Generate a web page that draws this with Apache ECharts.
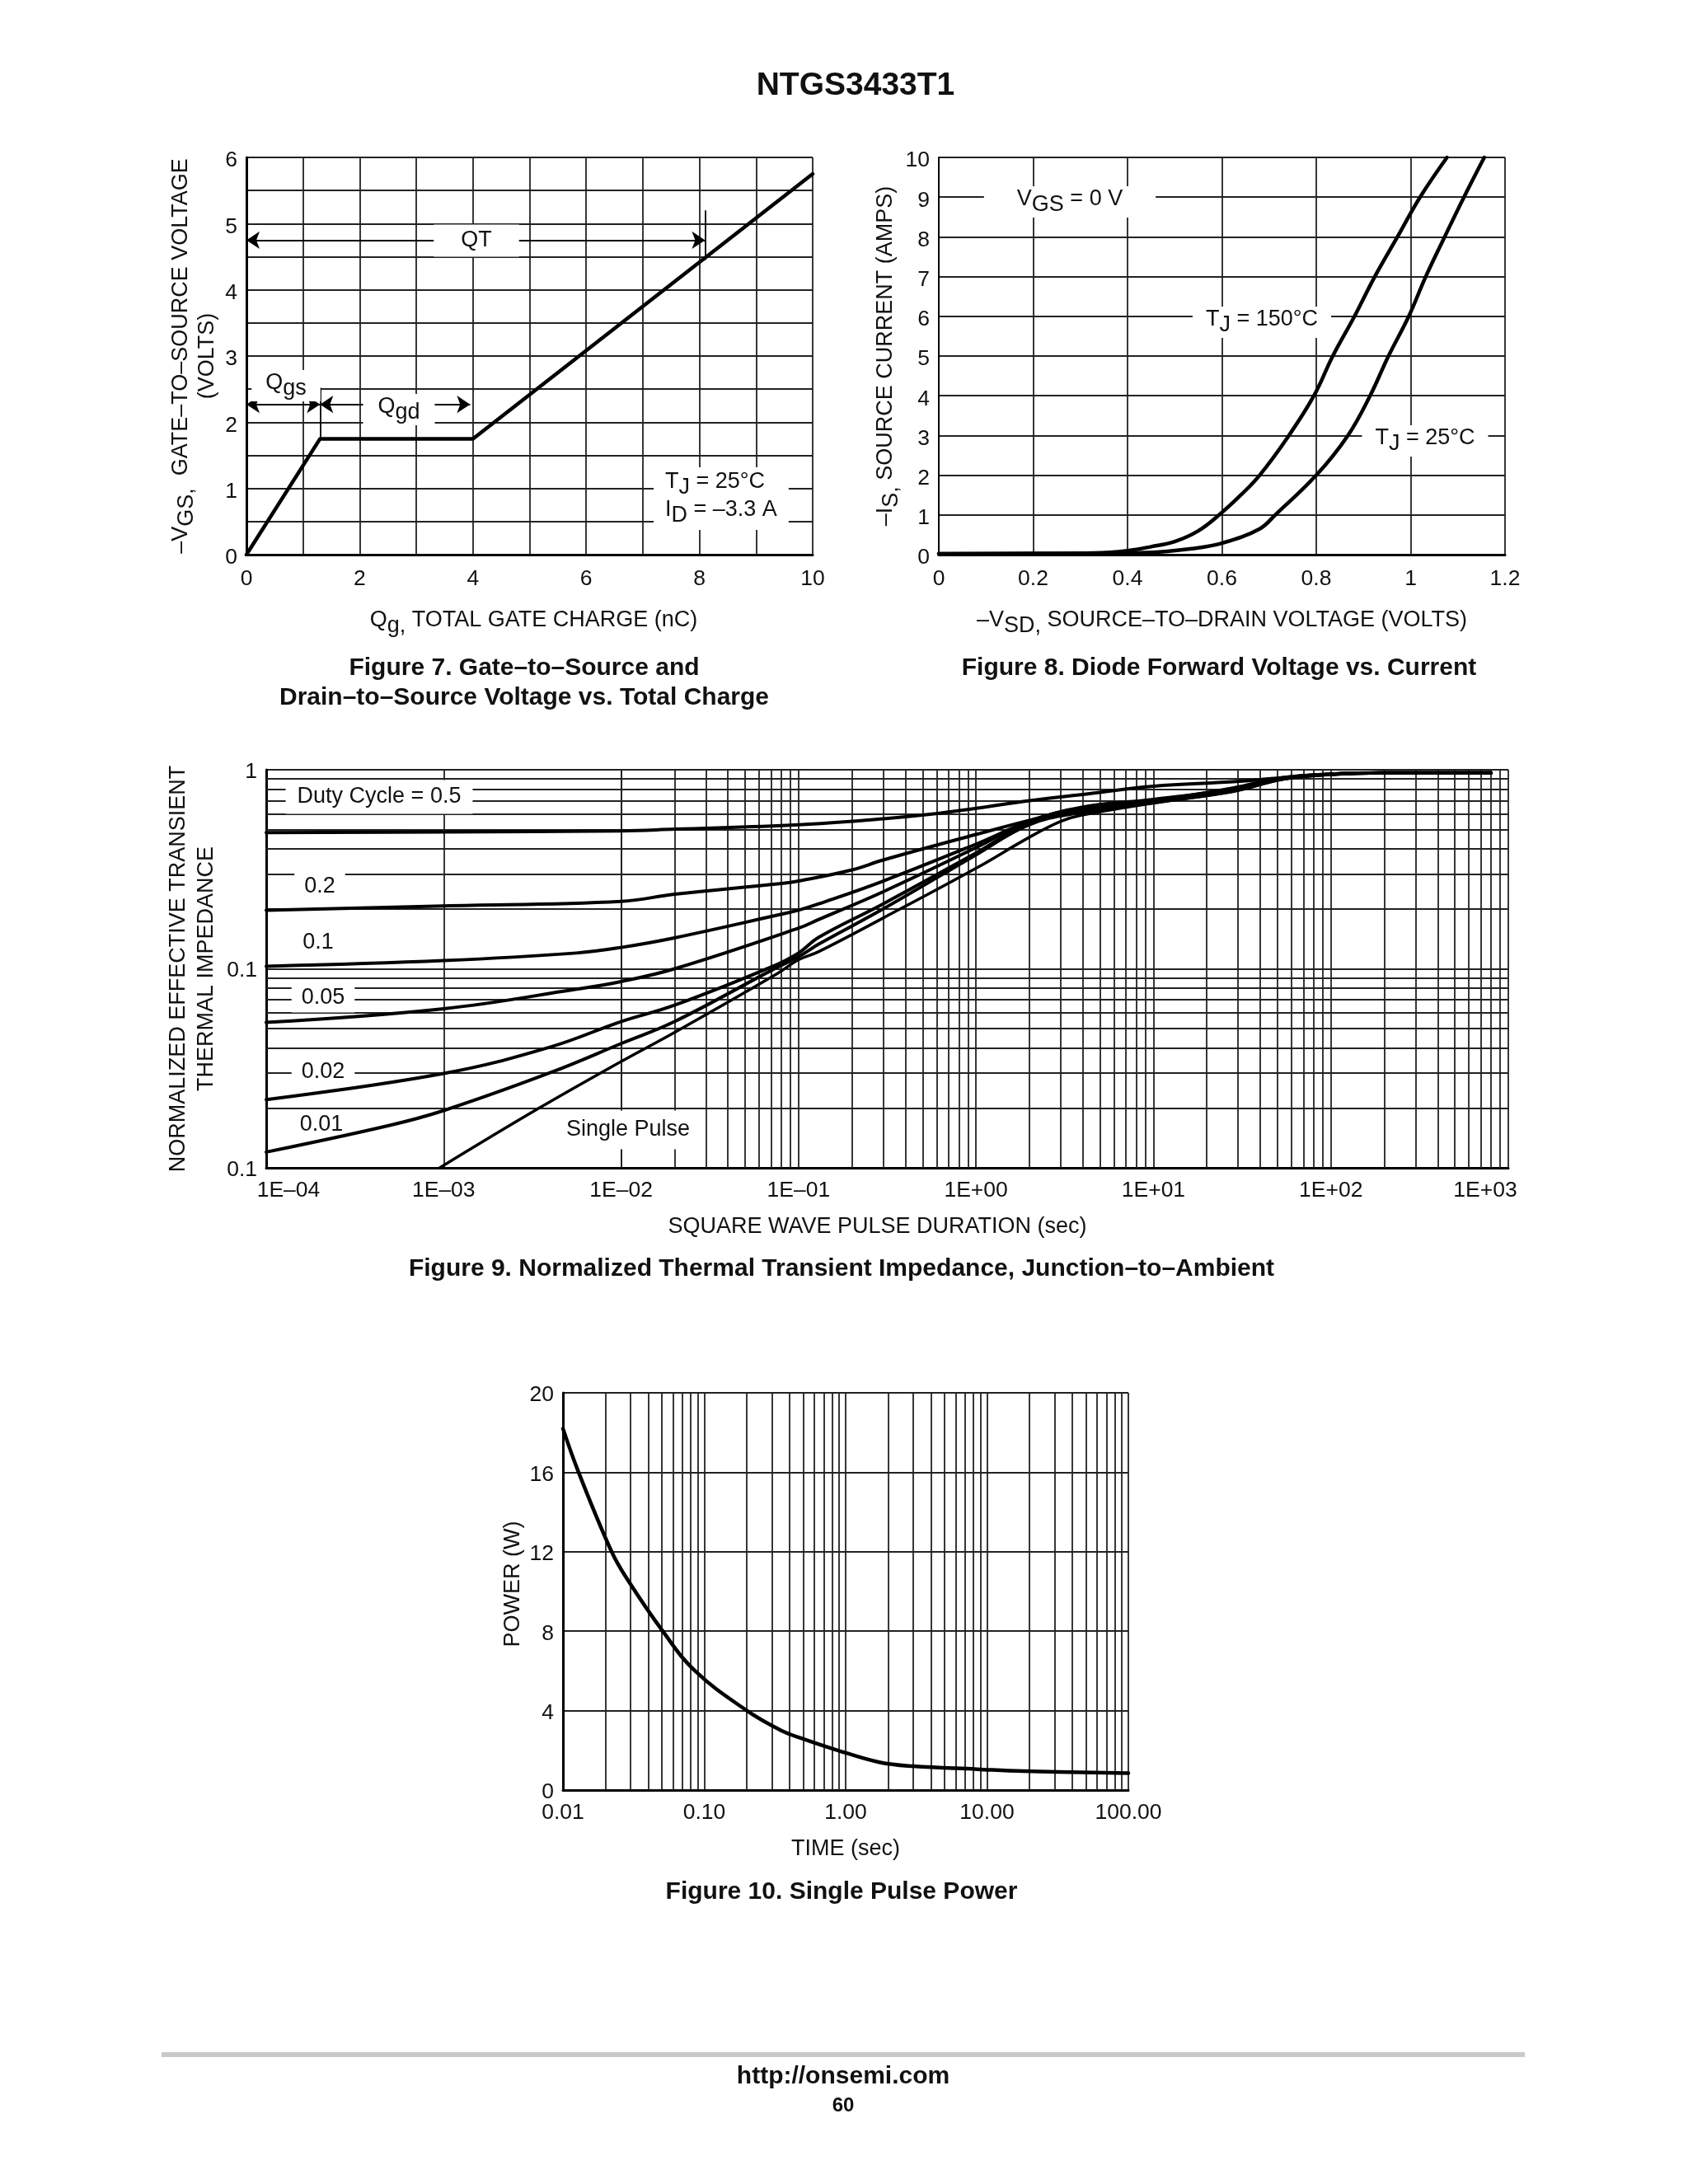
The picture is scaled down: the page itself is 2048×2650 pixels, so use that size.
<!DOCTYPE html>
<html>
<head>
<meta charset="utf-8">
<title>NTGS3433T1</title>
<script src="https://cdn.jsdelivr.net/npm/echarts@6/dist/echarts.min.js"></script>
<style>
html, body { margin: 0; padding: 0; background: #fff; }
#page { width: 2048px; height: 2650px; }
</style>
</head>
<body>
<div id="page"></div>
<script>
// Figure 7 - gate charge
var gateChargeX = [0, 1.3, 4, 10];
var gateChargeY = [0, 1.75, 1.75, 5.75];
var qtArrow = [[0, 4.75], [8.1, 4.75]];
var qtLeader = [[8.1, 4.45], [8.1, 5.2]];
var qgsArrow = [[0, 2.27], [1.3, 2.27]];
var qgdArrow = [[1.3, 2.27], [3.95, 2.27]];
var qgsLeader = [[1.3, 1.75], [1.3, 2.52]];

// Figure 8 - diode forward voltage
var diodeHotX = [0, 0.2, 0.33, 0.4, 0.45, 0.5, 0.55, 0.594, 0.64, 0.68, 0.742, 0.795, 0.835, 0.881, 0.924, 0.972, 1.02, 1.077];
var diodeHotY = [0.02, 0.03, 0.04, 0.1, 0.2, 0.33, 0.6, 1, 1.5, 2, 3, 4, 5, 6, 7, 8, 9, 10];
var diodeRoomX = [0, 0.3, 0.44, 0.536, 0.603, 0.68, 0.713, 0.8, 0.867, 0.914, 0.953, 0.996, 1.032, 1.072, 1.113, 1.156];
var diodeRoomY = [0.02, 0.03, 0.05, 0.15, 0.3, 0.65, 1, 2, 3, 4, 5, 6, 7, 8, 9, 10];

// Figure 9 - thermal impedance, one x/y pair per duty cycle
var duty50X = [1e-4, 1e-3, 1e-2, 2e-2, 0.1, 0.3, 0.55, 1, 2, 3.9, 10, 28, 54, 100, 200, 800];
var duty50Y = [0.483, 0.487, 0.493, 0.503, 0.529, 0.567, 0.597, 0.64, 0.70, 0.75, 0.826, 0.87, 0.914, 0.952, 0.964, 0.964];
var duty20X = [1e-4, 1e-3, 1e-2, 2e-2, 8e-2, 0.1, 0.2, 0.3, 1, 2, 3.9, 10, 28, 54, 100, 200, 800];
var duty20Y = [0.197, 0.207, 0.218, 0.237, 0.268, 0.276, 0.314, 0.352, 0.473, 0.557, 0.64, 0.70, 0.81, 0.914, 0.952, 0.964, 0.964];
var duty10X = [1e-4, 1e-3, 5.6e-3, 1e-2, 2e-2, 8e-2, 0.1, 0.13, 0.3, 1, 2, 3.9, 10, 28, 54, 100, 200, 800];
var duty10Y = [0.103, 0.11, 0.12, 0.128, 0.143, 0.188, 0.197, 0.212, 0.276, 0.423, 0.55, 0.647, 0.71, 0.80, 0.91, 0.95, 0.964, 0.964];
var duty05X = [1e-4, 1e-3, 5.6e-3, 1e-2, 2e-2, 0.1, 0.13, 0.3, 1, 2, 3.9, 10, 28, 54, 100, 200, 800];
var duty05Y = [0.0538, 0.063, 0.079, 0.0863, 0.1, 0.16, 0.177, 0.244, 0.406, 0.55, 0.64, 0.70, 0.79, 0.905, 0.95, 0.964, 0.964];
var duty02X = [1e-4, 1e-3, 4e-3, 1e-2, 2e-2, 7e-2, 0.1, 0.13, 0.3, 1, 2, 3.9, 10, 28, 54, 100, 200, 800];
var duty02Y = [0.022, 0.0298, 0.0405, 0.0543, 0.0656, 0.102, 0.12, 0.144, 0.212, 0.382, 0.54, 0.625, 0.69, 0.785, 0.90, 0.948, 0.964, 0.964];
var duty01X = [1e-4, 4.9e-4, 1e-3, 4e-3, 1e-2, 2e-2, 7e-2, 0.1, 0.13, 0.3, 1, 2, 3.9, 10, 28, 54, 100, 200, 800];
var duty01Y = [0.012, 0.0163, 0.0194, 0.0301, 0.0421, 0.0543, 0.098, 0.115, 0.133, 0.2, 0.374, 0.53, 0.61, 0.685, 0.78, 0.90, 0.948, 0.964, 0.964];
var singleX = [9.5e-4, 3.4e-3, 1e-2, 2e-2, 7.5e-2, 0.1, 0.13, 0.3, 1, 2, 3, 3.9, 10, 28, 54, 100, 200, 800];
var singleY = [0.01, 0.0198, 0.0342, 0.0479, 0.094, 0.111, 0.122, 0.18, 0.32, 0.458, 0.55, 0.59, 0.68, 0.777, 0.896, 0.945, 0.964, 0.964];

// Figure 10 - single pulse power
var powerX = [0.01, 0.0129, 0.0221, 0.0286, 0.0508, 0.086, 0.2, 0.35, 0.49, 0.88, 1.73, 3, 8.5, 18, 100];
var powerY = [18.2, 16, 12, 10.6, 8, 6, 4, 3, 2.6, 2, 1.4, 1.2, 1.05, 0.95, 0.85];

// Tick labels as printed on the sheet
var impedanceXLabels = ['1E\u201304', '1E\u201303', '1E\u201302', '1E\u201301', '1E+00', '1E+01', '1E+02', '1E+03'];
var impedanceYLabels = ['0.1', '0.1', '1'];
var logMinorSteps = [2, 3, 4, 5, 6, 7, 8, 9];

var FONT = '"Liberation Sans", Arial, sans-serif';
var INK = '#111';
var TICK_SIZE = 26.5;
var NAME_SIZE = 27;
var GRID_WIDTH = 1.8;


//
// Helpers
//

// zip two lists into [x, y] pairs
function zipXY(xs, ys) {
    return xs.map(function(x, i) { return [x, ys[i]]; });
}

// 2,3..9 x 10^k for every decade between two exponents
function logGridValues(fromExp, toExp) {
    var out = [];
    for (var k = fromExp; k < toExp; k++) {
        logMinorSteps.forEach(function(m) { out.push(m * Math.pow(10, k)); });
    }
    return out;
}

// rich text styles: m = normal, s = lowered subscript, p = plain line, q = tight second line
function richStyles(size) {
    return {
        m: { fontFamily: FONT, fontSize: size, color: INK, lineHeight: size + 7, verticalAlign: 'top' },
        s: { fontFamily: FONT, fontSize: size, color: INK, lineHeight: size + 7, verticalAlign: 'bottom' },
        p: { fontFamily: FONT, fontSize: size, color: INK, lineHeight: size + 7 },
        q: { fontFamily: FONT, fontSize: size, color: INK, lineHeight: size - 4 }
    };
}

function curve(grid, xs, ys, width, smooth) {
    return {
        type: 'line',
        xAxisIndex: grid,
        yAxisIndex: grid,
        data: zipXY(xs, ys),
        showSymbol: false,
        smooth: smooth,
        z: 5,
        lineStyle: { color: '#000', width: width, join: 'round', cap: 'round' }
    };
}

// extra grid lines on the log charts, go through the axis scale
function gridLines(grid, key, values) {
    return {
        type: 'line',
        xAxisIndex: grid,
        yAxisIndex: grid,
        data: [],
        z: 1,
        markLine: {
            silent: true,
            z: 1,
            symbol: 'none',
            animation: false,
            label: { show: false },
            lineStyle: { color: '#222', width: GRID_WIDTH, type: 'solid' },
            data: values.map(function(v) {
                var item = {};
                item[key] = v;
                return item;
            })
        }
    };
}

function segment(a, b) {
    return [{ coord: a }, { coord: b }];
}

function xAxisBase(grid, name, gap) {
    return {
        gridIndex: grid,
        name: name,
        nameLocation: 'middle',
        nameGap: gap,
        nameTextStyle: { fontFamily: FONT, fontSize: NAME_SIZE, color: INK, rich: richStyles(NAME_SIZE) },
        axisTick: { show: false },
        axisLine: { onZero: false, lineStyle: { color: '#000', width: 3 } },
        axisLabel: { fontFamily: FONT, fontSize: TICK_SIZE, color: INK, margin: 16, hideOverlap: false, showMinLabel: true, showMaxLabel: true },
        splitLine: { show: true, lineStyle: { color: '#222', width: GRID_WIDTH } }
    };
}

function yAxisBase(grid, name, gap, labelOf, labelDrop) {
    return {
        gridIndex: grid,
        name: name,
        nameLocation: 'middle',
        nameGap: gap,
        nameTextStyle: { fontFamily: FONT, fontSize: NAME_SIZE, color: INK, rich: richStyles(NAME_SIZE) },
        axisTick: { show: false },
        axisLine: { onZero: false, lineStyle: { color: '#000', width: 3 } },
        axisLabel: {
            margin: 11,
            hideOverlap: false,
            showMinLabel: true,
            showMaxLabel: true,
            // rich padding nudges the number a little below its grid line, as on the sheet
            formatter: function(v) {
                var text = labelOf(v);
                return text === '' ? '' : '{t|' + text + '}';
            },
            rich: { t: { fontFamily: FONT, fontSize: TICK_SIZE, color: INK, padding: [labelDrop, 0, 0, 0] } }
        },
        splitLine: { show: true, lineStyle: { color: '#222', width: GRID_WIDTH } }
    };
}

// annotation inside a plot, white box hides the grid but stays under the curves
function note(text, x, y, padV, padH, align) {
    return {
        type: 'text',
        z: 3,
        x: x,
        y: y,
        style: {
            text: text,
            rich: richStyles(NAME_SIZE),
            font: NAME_SIZE + 'px ' + FONT,
            fill: INK,
            align: align || 'center',
            verticalAlign: 'middle',
            backgroundColor: '#fff',
            padding: [padV, padH]
        }
    };
}

function heading(text, cx, cy, size) {
    return {
        text: text,
        left: cx,
        top: cy,
        textAlign: 'center',
        textVerticalAlign: 'middle',
        padding: 0,
        textStyle: { fontFamily: FONT, fontSize: size, fontWeight: 'bold', color: '#111' }
    };
}


//
// Chart config
//

var chart = echarts.init(document.getElementById('page'), null, { renderer: 'canvas' });

var fig9XAxis = xAxisBase(2, 'SQUARE WAVE PULSE DURATION (sec)', 58);
fig9XAxis.type = 'log';
fig9XAxis.logBase = 10;
fig9XAxis.min = 1e-4;
fig9XAxis.max = 1e3;
fig9XAxis.interval = 1;
fig9XAxis.axisLabel.margin = 14;
fig9XAxis.nameTextStyle.padding = [0, 24, 0, 0];
fig9XAxis.axisLabel.formatter = function(v) {
    var text = impedanceXLabels[Math.round(Math.log10(v)) + 4];
    if (v < 2e-4) return '{first|' + text + '}';
    if (v > 500) return '{last|' + text + '}';
    return text;
};
fig9XAxis.axisLabel.rich = {
    first: { fontFamily: FONT, fontSize: TICK_SIZE, color: INK, padding: [0, 0, 0, 54] },
    last: { fontFamily: FONT, fontSize: TICK_SIZE, color: INK, padding: [0, 56, 0, 0] }
};

var fig9YAxis = yAxisBase(2, '{p|NORMALIZED EFFECTIVE TRANSIENT}\n{p|THERMAL IMPEDANCE}', 53, function(v) {
    return impedanceYLabels[Math.round(Math.log10(v)) + 2];
}, 5);
fig9YAxis.type = 'log';
fig9YAxis.logBase = 10;
fig9YAxis.min = 0.01;
fig9YAxis.max = 1;
fig9YAxis.interval = 1;

var fig10XAxis = xAxisBase(3, 'TIME (sec)', 58);
fig10XAxis.type = 'log';
fig10XAxis.logBase = 10;
fig10XAxis.min = 0.01;
fig10XAxis.max = 100;
fig10XAxis.interval = 1;
fig10XAxis.axisLabel.margin = 14;
fig10XAxis.axisLabel.formatter = function(v) { return v.toFixed(2); };

var fig10YAxis = yAxisBase(3, 'POWER (W)', 47, function(v) { return String(v); }, 6);
fig10YAxis.type = 'value';
fig10YAxis.min = 0;
fig10YAxis.max = 20;
fig10YAxis.interval = 4;
fig10YAxis.nameTextStyle.padding = [0, 0, 0, 18];

var fig7XAxis = xAxisBase(0, '{m|Q}{s|g,}{m| TOTAL GATE CHARGE (nC)}', 66);
fig7XAxis.type = 'value';
fig7XAxis.min = 0;
fig7XAxis.max = 10;
fig7XAxis.interval = 1;
fig7XAxis.nameTextStyle.padding = [0, 0, 0, 10];
fig7XAxis.axisLabel.formatter = function(v) { return v % 2 === 0 ? String(v) : ''; };

var fig7YAxis = yAxisBase(0, '{m|\u2013V}{s|GS,}{m|  GATE\u2013TO\u2013SOURCE VOLTAGE}\n{q|(VOLTS)}', 36, function(v) {
    return v % 1 === 0 ? String(v) : '';
}, 8);
fig7YAxis.type = 'value';
fig7YAxis.min = 0;
fig7YAxis.max = 6;
fig7YAxis.interval = 0.5;

var fig8XAxis = xAxisBase(1, '{m|\u2013V}{s|SD,}{m| SOURCE\u2013TO\u2013DRAIN VOLTAGE (VOLTS)}', 66);
fig8XAxis.type = 'value';
fig8XAxis.min = 0;
fig8XAxis.max = 1.2;
fig8XAxis.interval = 0.2;

var fig8YAxis = yAxisBase(1, '{m|\u2013I}{s|S,}{m| SOURCE CURRENT (AMPS)}', 29, function(v) { return String(v); }, 8);
fig8YAxis.type = 'value';
fig8YAxis.min = 0;
fig8YAxis.max = 10;
fig8YAxis.interval = 1;
fig8YAxis.axisLine.lineStyle.width = 2;

chart.setOption({
    animation: false,
    backgroundColor: '#fff',

    // Page heading, figure captions and footer text
    title: [
        heading('NTGS3433T1', 1038, 104, 39),
        heading('Figure 7. Gate\u2013to\u2013Source and', 636, 811, 30),
        heading('Drain\u2013to\u2013Source Voltage vs. Total Charge', 636, 847, 30),
        heading('Figure 8. Diode Forward Voltage vs. Current', 1479, 811, 30),
        heading('Figure 9. Normalized Thermal Transient Impedance, Junction\u2013to\u2013Ambient', 1021, 1540, 30),
        heading('Figure 10. Single Pulse Power', 1021, 2296, 30),
        heading('http://onsemi.com', 1023, 2520, 30),
        heading('60', 1023, 2555, 24)
    ],

    // One plot rectangle per figure
    grid: [
        { left: 299, top: 191, width: 687, height: 482 },
        { left: 1139, top: 191, width: 687, height: 482 },
        { left: 323, top: 934, width: 1507, height: 483 },
        { left: 683, top: 1690, width: 686, height: 482 }
    ],
    xAxis: [fig7XAxis, fig8XAxis, fig9XAxis, fig10XAxis],
    yAxis: [fig7YAxis, fig8YAxis, fig9YAxis, fig10YAxis],

    series: [
        // Figure 7
        curve(0, gateChargeX, gateChargeY, 4.5, false),
        {
            type: 'line',
            xAxisIndex: 0,
            yAxisIndex: 0,
            data: [],
            z: 2,
            markLine: {
                silent: true,
                z: 2,
                animation: false,
                symbol: ['arrow', 'arrow'],
                symbolSize: 16,
                label: { show: false },
                lineStyle: { color: '#000', width: 1.8, type: 'solid' },
                data: [
                    segment(qtArrow[0], qtArrow[1]),
                    segment(qgsArrow[0], qgsArrow[1]),
                    segment(qgdArrow[0], qgdArrow[1])
                ]
            }
        },
        {
            type: 'line',
            xAxisIndex: 0,
            yAxisIndex: 0,
            data: [],
            z: 2,
            markLine: {
                silent: true,
                z: 2,
                animation: false,
                symbol: 'none',
                label: { show: false },
                lineStyle: { color: '#000', width: 1.8, type: 'solid' },
                data: [
                    segment(qtLeader[0], qtLeader[1]),
                    segment(qgsLeader[0], qgsLeader[1])
                ]
            }
        },

        // Figure 8
        curve(1, diodeHotX, diodeHotY, 4.5, 0.4),
        curve(1, diodeRoomX, diodeRoomY, 4.5, 0.4),

        // Figure 9
        gridLines(2, 'xAxis', logGridValues(-4, 3)),
        gridLines(2, 'yAxis', logGridValues(-2, 0)),
        curve(2, duty50X, duty50Y, 4, 0.4),
        curve(2, duty20X, duty20Y, 4, 0.4),
        curve(2, duty10X, duty10Y, 4, 0.4),
        curve(2, duty05X, duty05Y, 4, 0.4),
        curve(2, duty02X, duty02Y, 4, 0.4),
        curve(2, duty01X, duty01Y, 4, 0.4),
        curve(2, singleX, singleY, 3.5, 0.4),

        // Figure 10
        gridLines(3, 'xAxis', logGridValues(-2, 2)),
        curve(3, powerX, powerY, 4.5, 0.4)
    ],

    // Text inside the plots and the footer rule
    graphic: [
        note('QT', 578, 292, 6, 33),
        note('{m|Q}{s|gs}', 347, 468, 2, 17),
        note('{m|Q}{s|gd}', 484, 497, 2, 18),
        note('{m|T}{s|J}{m| = 25\u00B0C}\n{m|I}{s|D}{m| = \u20133.3 A}', 793, 605, 4, 14, 'left'),
        note('{m|V}{s|GS}{m| = 0 V}', 1298, 245, 2, 40),
        note('{m|T}{s|J}{m| = 150\u00B0C}', 1531, 391, 2, 16),
        note('{m|T}{s|J}{m| = 25\u00B0C}', 1729, 535, 2, 16),
        note('Duty Cycle = 0.5', 460, 967, 7, 14),
        note('0.2', 388, 1076, 6, 12),
        note('0.1', 386, 1144, 8, 14),
        note('0.05', 392, 1211, 4, 12),
        note('0.02', 392, 1301, 4, 12),
        note('0.01', 390, 1365, 3, 12),
        note('Single Pulse', 762, 1371, 10, 10),
        {
            type: 'rect',
            z: 3,
            shape: { x: 196, y: 2490, width: 1654, height: 6 },
            style: { fill: '#c9c9c9' }
        }
    ]
});
</script>
</body>
</html>
